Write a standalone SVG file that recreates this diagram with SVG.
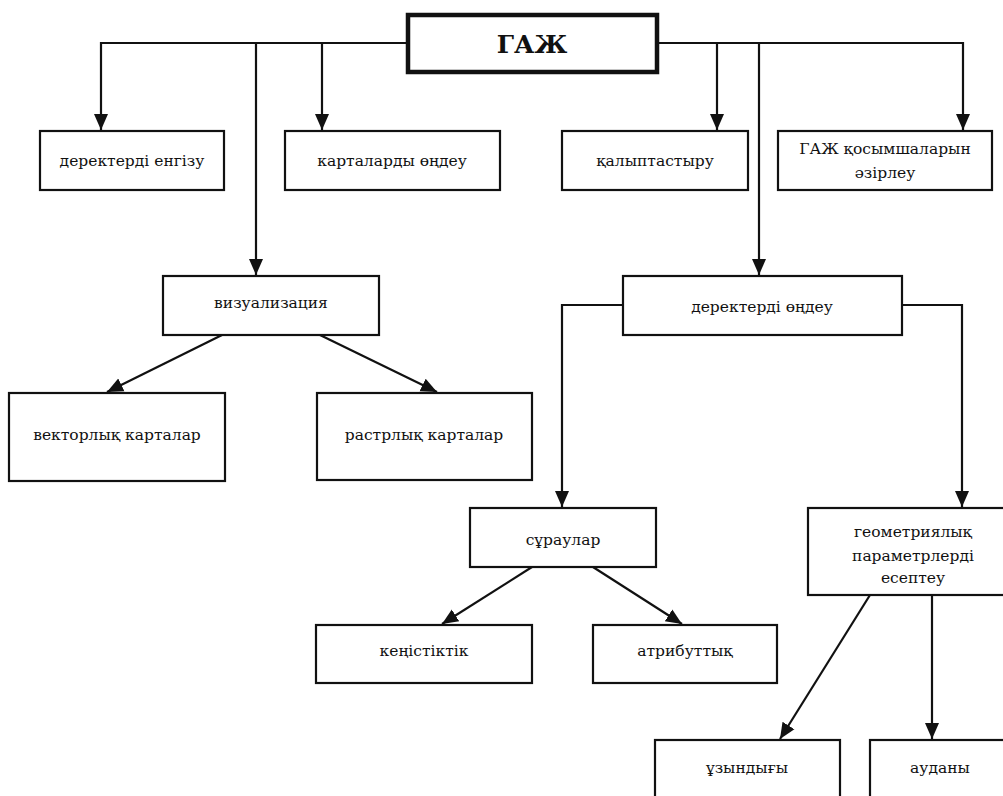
<svg xmlns="http://www.w3.org/2000/svg" width="1003" height="796" viewBox="0 0 1003 796">
<style>
.box{fill:#fff;stroke:#111;stroke-width:2.2}
.main{fill:#fff;stroke:#111;stroke-width:4.5}
text{fill:#111;text-anchor:middle}
.t{font-family:'DejaVu Serif',serif;font-size:15.5px}
.tb{font-family:'DejaVu Serif',serif;font-size:25px;font-weight:bold}
.c{fill:none;stroke:#111;stroke-width:2.2}
</style>
<defs>
<marker id="ah" markerUnits="userSpaceOnUse" markerWidth="16" markerHeight="18" viewBox="0 0 16 14" refX="16" refY="7" orient="auto">
<path d="M0,0 L16,7 L0,14 Z" fill="#111"/>
</marker>
</defs>
<rect width="1003" height="796" fill="#fff"/>
<g id="connectors">
<path class="c" d="M408,43 H101 V130" marker-end="url(#ah)"/>
<path class="c" d="M256,43 V275" marker-end="url(#ah)"/>
<path class="c" d="M322,43 V130" marker-end="url(#ah)"/>
<path class="c" d="M657,43 H963 V130" marker-end="url(#ah)"/>
<path class="c" d="M717,43 V130" marker-end="url(#ah)"/>
<path class="c" d="M759,43 V275" marker-end="url(#ah)"/>
<path class="c" d="M222,335 L107,392" marker-end="url(#ah)"/>
<path class="c" d="M320,335 L437,392" marker-end="url(#ah)"/>
<path class="c" d="M623,305 H562 V507" marker-end="url(#ah)"/>
<path class="c" d="M902,305 H962 V507" marker-end="url(#ah)"/>
<path class="c" d="M532,567 L442,624" marker-end="url(#ah)"/>
<path class="c" d="M593,567 L682,624" marker-end="url(#ah)"/>
<path class="c" d="M870,595 L780,739" marker-end="url(#ah)"/>
<path class="c" d="M932,595 V739" marker-end="url(#ah)"/>
</g>
<g id="gaj"><rect class="main" x="408" y="15" width="249" height="57"/><text class="tb" x="532" y="53">ГАЖ</text></g>
<g id="engizu"><rect class="box" x="40" y="131" width="184" height="59"/><text class="t" x="132" y="166">деректерді енгізу</text></g>
<g id="kartalar"><rect class="box" x="285" y="131" width="215" height="59"/><text class="t" x="392" y="166">карталарды өңдеу</text></g>
<g id="kalyptastyru"><rect class="box" x="562" y="131" width="186" height="59"/><text class="t" x="655" y="166">қалыптастыру</text></g>
<g id="kosymsha"><rect class="box" x="778" y="131" width="214" height="59"/><text class="t" x="885" y="154">ГАЖ қосымшаларын</text><text class="t" x="885" y="178">әзірлеу</text></g>
<g id="vizual"><rect class="box" x="163" y="276" width="216" height="59"/><text class="t" x="271" y="308">визуализация</text></g>
<g id="vektor"><rect class="box" x="9" y="393" width="216" height="88"/><text class="t" x="117" y="440">векторлық карталар</text></g>
<g id="raster"><rect class="box" x="317" y="393" width="215" height="87"/><text class="t" x="424" y="440">растрлық карталар</text></g>
<g id="ondeu"><rect class="box" x="623" y="276" width="279" height="59"/><text class="t" x="762" y="312">деректерді өңдеу</text></g>
<g id="suraular"><rect class="box" x="470" y="508" width="186" height="59"/><text class="t" x="563" y="545">сұраулар</text></g>
<g id="geom"><rect class="box" x="808" y="508" width="210" height="87"/><text class="t" x="913" y="537">геометриялық</text><text class="t" x="913" y="561">параметрлерді</text><text class="t" x="913" y="583">есептеу</text></g>
<g id="kenistik"><rect class="box" x="316" y="625" width="216" height="58"/><text class="t" x="424" y="656">кеңістіктік</text></g>
<g id="atribut"><rect class="box" x="593" y="625" width="184" height="58"/><text class="t" x="685" y="656">атрибуттық</text></g>
<g id="uzyndygy"><rect class="box" x="655" y="740" width="185" height="70"/><text class="t" x="747" y="773">ұзындығы</text></g>
<g id="audany"><rect class="box" x="870" y="740" width="150" height="70"/><text class="t" x="940" y="773">ауданы</text></g>
</svg>
